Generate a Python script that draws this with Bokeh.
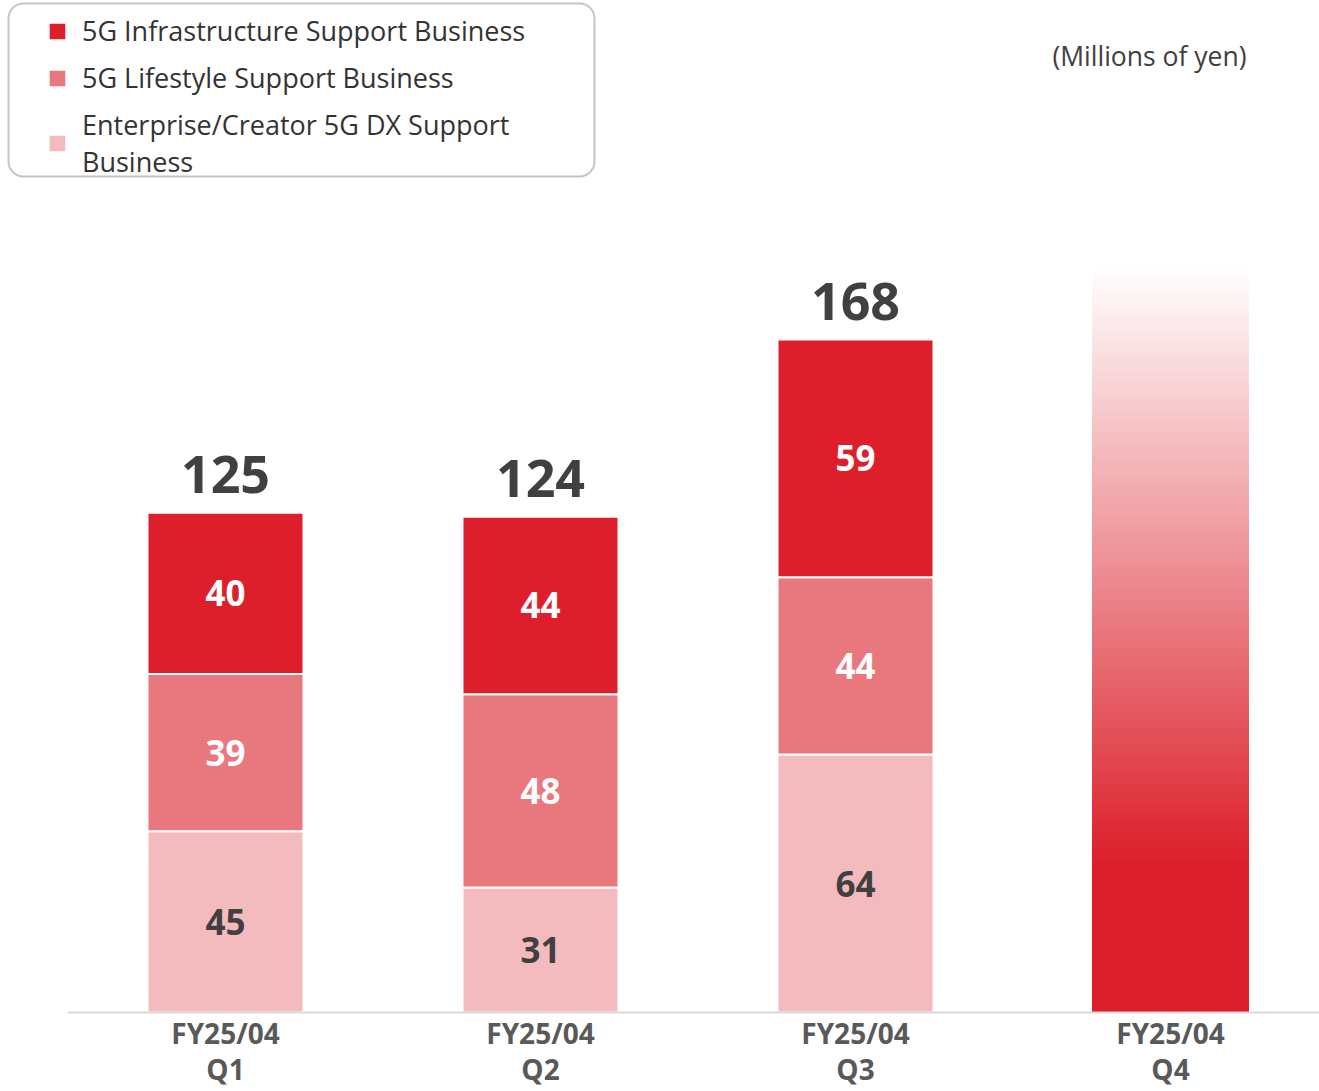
from bokeh.plotting import figure
from bokeh.models import Legend, LegendItem, ColumnDataSource, Range1d, Label, BoxAnnotation
from bokeh.core.properties import value
from bokeh.embed import file_html
from bokeh.resources import INLINE

# ---------------- data ----------------
quarters = ["FY25/04\nQ1", "FY25/04\nQ2", "FY25/04\nQ3", "FY25/04\nQ4"]
enterprise = [45, 31, 64]        # Enterprise/Creator 5G DX Support Business
lifestyle = [39, 48, 44]         # 5G Lifestyle Support Business
infrastructure = [40, 44, 59]    # 5G Infrastructure Support Business
totals = [125, 124, 168]
q4_placeholder = [185]           # decorative (not yet reported) bar height
series_labels = [
    "5G Infrastructure Support Business",
    "5G Lifestyle Support Business",
    "Enterprise/Creator 5G DX Support\nBusiness",
]
unit_note = "(Millions of yen)"

# ---------------- styling ----------------
C_DARK = "#DC1F2A"
C_MID = "#E8787E"
C_LIGHT = "#F4BBBF"
FONT = "Open Sans"

W, H = 1319, 1091
# pixel <-> data helpers (image coordinates, figure at page origin)
PX_X, X0_IMG = 315.0, 225.0
PX_Y, BASE_IMG = 4.03, 1012.0
def xd(px):
    return (px - X0_IMG) / PX_X
def yd(py):
    return (BASE_IMG - py) / PX_Y

p = figure(width=W, height=H, output_backend="svg", toolbar_location=None,
           x_axis_location=None, y_axis_location=None,
           x_range=Range1d(xd(0), xd(W)), y_range=Range1d(yd(H), yd(0)),
           min_border=0, outline_line_color=None)
p.background_fill_color = "white"
p.border_fill_color = "white"
p.grid.visible = False

n = len(enterprise)
xs = list(range(n))
ent_c = [e / 2 for e in enterprise]
life_c = [e + l / 2 for e, l in zip(enterprise, lifestyle)]
inf_c = [e + l + i / 2 for e, l, i in zip(enterprise, lifestyle, infrastructure)]
stack_top = [e + l + i for e, l, i in zip(enterprise, lifestyle, infrastructure)]
tot_y = [t + 38 / PX_Y for t in stack_top]

src = ColumnDataSource(dict(
    x=xs, ent=enterprise, life=lifestyle, infra=infrastructure,
    ent_c=ent_c, life_c=life_c, inf_c=inf_c, tot_y=tot_y,
    ent_t=[str(v) for v in enterprise], life_t=[str(v) for v in lifestyle],
    inf_t=[str(v) for v in infrastructure], tot_t=[str(v) for v in totals],
))

BAR_W = 156 / PX_X
r_ent, r_life, r_inf = p.vbar_stack(["ent", "life", "infra"], x="x", width=BAR_W,
                                    color=[C_LIGHT, C_MID, C_DARK],
                                    line_color="white", line_width=2, source=src)

# Q4 gradient bar (placeholder): nested opaque quads from the base, tallest
# (lightest) drawn first, giving a fade from the bar colour to white
def blend(a):
    r0, g0, b0 = int(C_DARK[1:3], 16), int(C_DARK[3:5], 16), int(C_DARK[5:7], 16)
    r = round(255 + (r0 - 255) * a)
    g = round(255 + (g0 - 255) * a)
    b = round(255 + (b0 - 255) * a)
    return "#%02x%02x%02x" % (r, g, b)

q4x = len(quarters) - 1
top4 = q4_placeholder[0]
solid = top4 * 0.2
N = 120
g_tops, g_cols = [], []
for j in range(N, 0, -1):
    g_tops.append(solid + (top4 - solid) * j / N)
    g_cols.append(blend(1.0 - (j - 0.5) / N))
g_tops.append(solid)
g_cols.append(C_DARK)
p.quad(left=q4x - BAR_W / 2, right=q4x + BAR_W / 2, bottom=0, top=g_tops,
       fill_color=g_cols, line_color=None)

# baseline
p.segment(x0=[xd(67)], y0=[0], x1=[xd(W)], y1=[0], line_color="#D9D9D9", line_width=2)

# segment labels
lbl = dict(text_font=value(FONT), text_font_style="bold", text_font_size="35px",
           text_align="center", text_baseline="middle")
p.text(x="x", y="ent_c", text="ent_t", text_color="#404040", source=src, **lbl)
p.text(x="x", y="life_c", text="life_t", text_color="white", source=src, **lbl)
p.text(x="x", y="inf_c", text="inf_t", text_color="white", source=src, **lbl)

# totals
p.text(x="x", y="tot_y", text="tot_t", text_color="#404040", text_font=value(FONT),
       text_font_style="bold", text_font_size="52px", text_align="center",
       text_baseline="middle", source=src)

# category labels
cat_src = ColumnDataSource(dict(x=list(range(len(quarters))), t=quarters,
                                y=[yd(1013)] * len(quarters)))
p.text(x="x", y="y", text="t", source=cat_src, text_color="#595959",
       text_font=value(FONT), text_font_style="bold", text_font_size="28px",
       text_align="center", text_baseline="top", text_line_height=0.95)

# unit note
p.add_layout(Label(x=xd(1246), y=yd(55), text=unit_note, text_align="right",
                   text_baseline="middle", text_font=FONT, text_font_size="26.5px",
                   text_color="#404040"))

# legend frame (rounded)
box = BoxAnnotation(left=xd(8), right=xd(594), top=yd(3), bottom=yd(176),
                    fill_color="white", fill_alpha=1.0,
                    line_color="#C4C4C4", line_alpha=1.0, line_width=2)
if "border_radius" in BoxAnnotation.properties():
    box.border_radius = 15
p.add_layout(box)

legend = Legend(items=[
    LegendItem(label=series_labels[0], renderers=[r_inf]),
    LegendItem(label=series_labels[1], renderers=[r_life]),
    LegendItem(label=series_labels[2], renderers=[r_ent]),
], location=(46, 911), margin=0, padding=0, spacing=10,
    glyph_width=22, glyph_height=22, label_standoff=14,
    label_text_font=FONT, label_text_font_size="27px", label_text_color="#333333",
    label_text_line_height=1.07,
    border_line_color=None, background_fill_alpha=0.0)
p.add_layout(legend)

open("out.html", "w").write(file_html(p, INLINE))
